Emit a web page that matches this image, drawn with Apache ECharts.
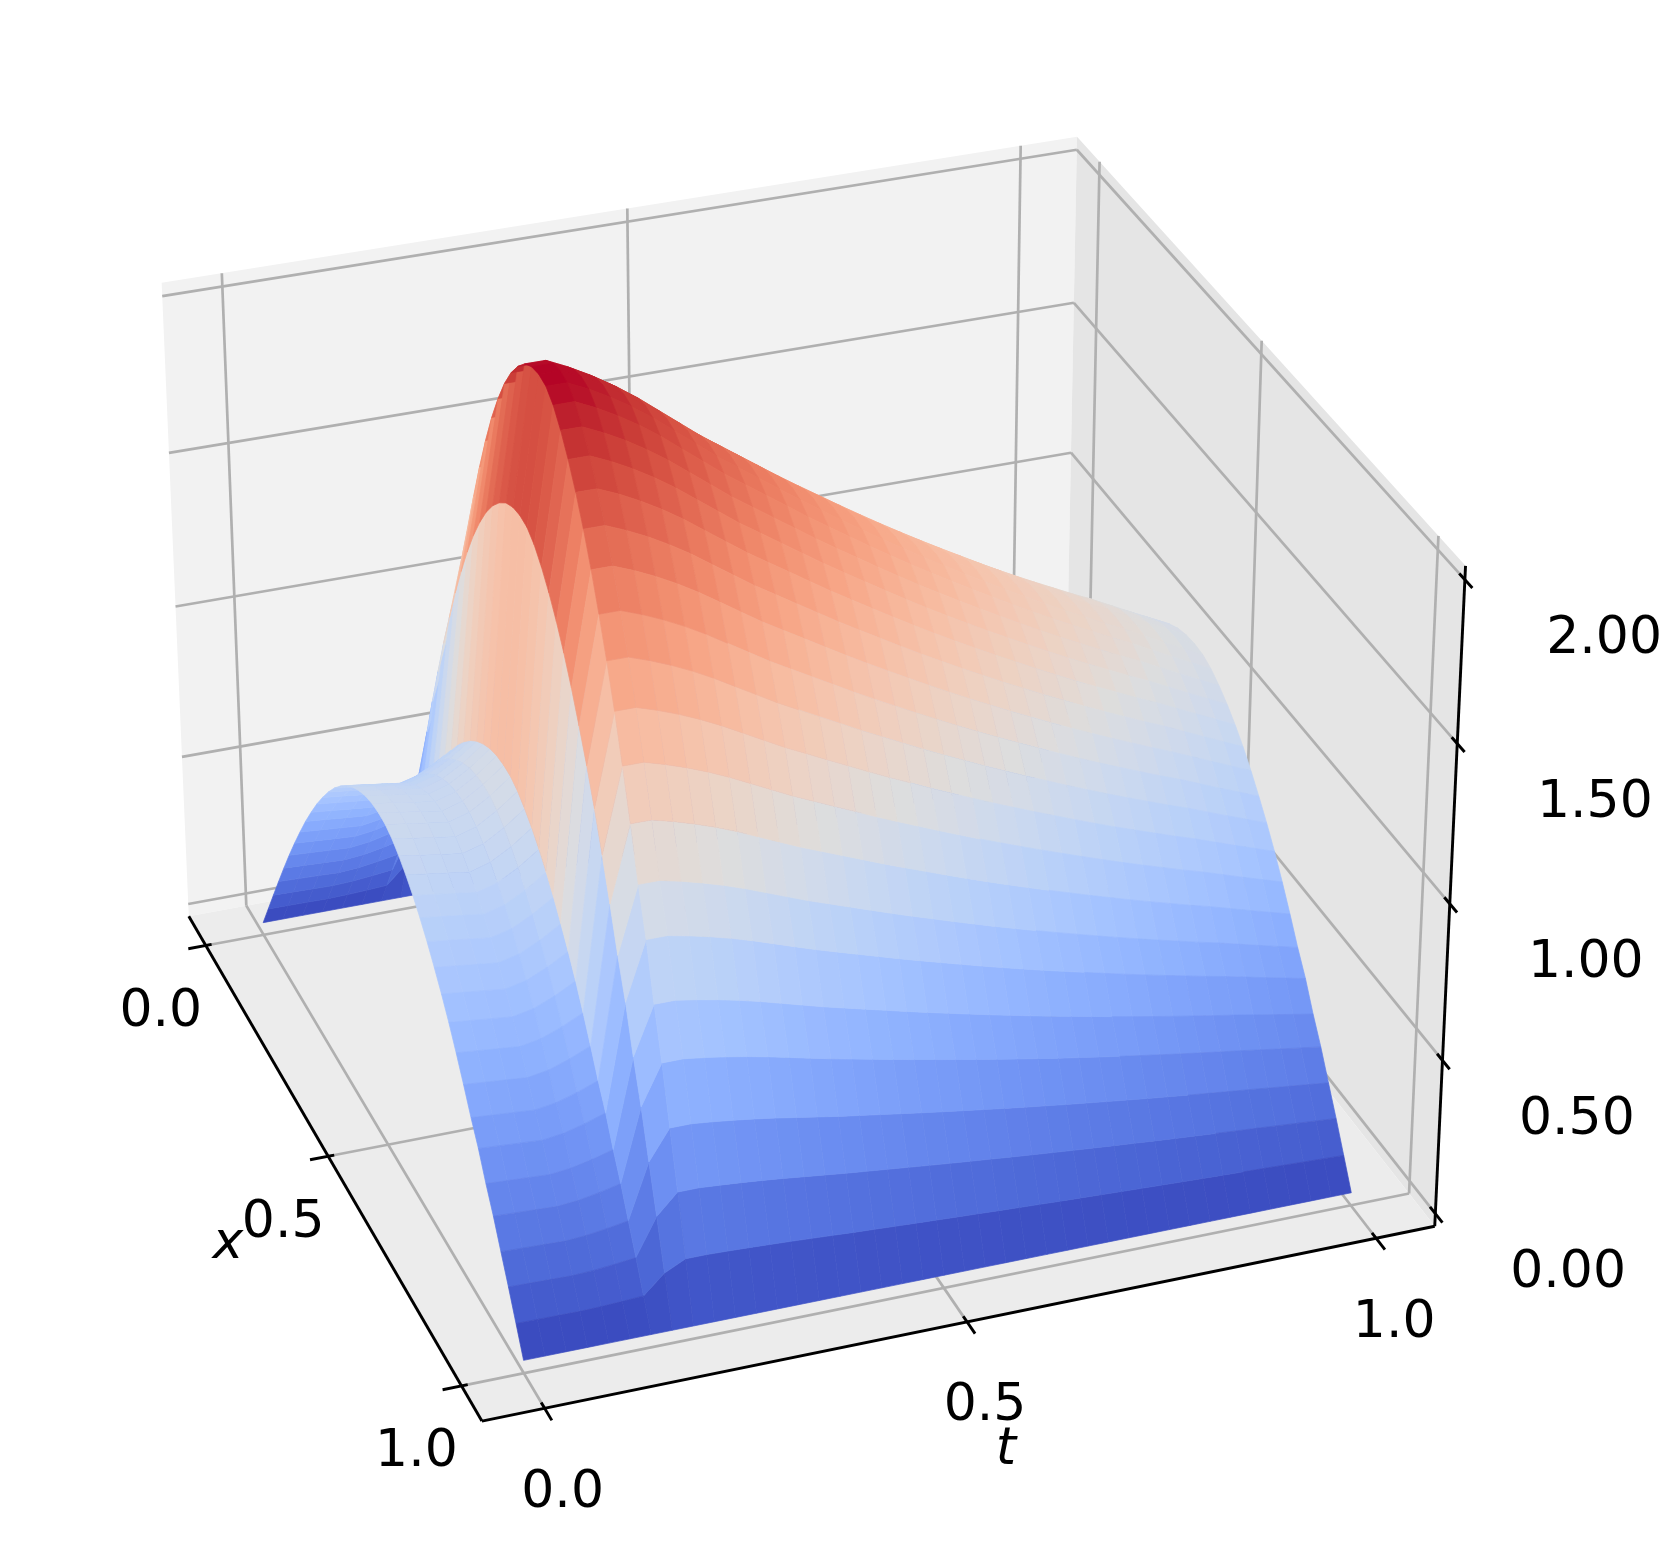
<!DOCTYPE html>
<html><head><meta charset="utf-8">
<style>html,body{margin:0;padding:0;background:#fff}#c{width:1662px;height:1544px}</style>
<script src="https://cdn.jsdelivr.net/npm/echarts@6/dist/echarts.min.js"></script></head>
<body><div id="c"></div>
<script>
const tValues=[0,.025,.05,.075,.1,.125,.15,.175,.2,.225,.25,.275,.3,.325,.35,.375,.4,.425,.45,.475,.5,.525,.55,.575,.6,.625,.65,.675,.7,.725,.75,.775,.8,.825,.85,.875,.9,.925,.95,.975,1];
const amplitude=[1.04,1.03,1.02,1.01,1.03,1.07,1.12,1.89,2.31,2.31,2.28,2.245,2.205,2.16,2.11,2.06,2.01,1.965,1.92,1.875,1.83,1.787,1.745,1.703,1.662,1.622,1.583,1.545,1.508,1.472,1.436,1.401,1.367,1.334,1.302,1.27,1.24,1.207,1.174,1.142,1.11];
const xValues=[0,.025,.05,.075,.1,.125,.15,.175,.2,.225,.25,.275,.3,.325,.35,.375,.4,.425,.45,.475,.5,.525,.55,.575,.6,.625,.65,.675,.7,.725,.75,.775,.8,.825,.85,.875,.9,.925,.95,.975,1];
const profile=[0,.078,.156,.233,.309,.383,.454,.522,.588,.649,.707,.76,.809,.853,.891,.924,.951,.972,.988,.997,1,.997,.985,.965,.94,.91,.875,.835,.79,.742,.689,.63,.567,.5,.44,.367,.302,.228,.155,.078,0];
const xTicks=[0,.5,1],tTicks=[0,.5,1],zTicks=[0,.5,1,1.5,2];
const xLabels=['0.0','0.5','1.0'],tLabels=['0.0','0.5','1.0'],zLabels=['0.00','0.50','1.00','1.50','2.00'];
const coolwarm=['#3b4cc0','#445acc','#4d68d7','#5775e1','#6282ea','#6c8ef1','#779af7','#82a5fb','#8db0fe','#98b9ff','#a3c2ff','#aec9fd','#b8d0f9','#c2d5f4','#ccd9ee','#d5dbe6','#dddddd','#e5d8d1','#ecd3c5','#f1ccb9','#f5c4ad','#f7bba0','#f7b194','#f7a687','#f49a7b','#f18d6f','#ec7f63','#e57058','#de604d','#d55042','#cb3e38','#c0282f','#b40426'];
const m=.0729,zf=-.0417,zt=2.0417,lo=-m,hi=1+m;
const P=[[217.5733,800.0925,-16.43704,263.1711],[326.4153,-118.4786,-311.265,922.6306],[-0.08183324,0.02969,-0.02074674,1]];
function proj(x,t,z){const w=P[2][0]*x+P[2][1]*t+P[2][2]*z+1;return [(P[0][0]*x+P[0][1]*t+P[0][2]*z+P[0][3])/w,(P[1][0]*x+P[1][1]*t+P[1][2]*z+P[1][3])/w,w];}
const zAt=(i,j)=>amplitude[j]*profile[i];
function cmap(v){v=Math.max(0,Math.min(1,v))*(coolwarm.length-1);const i=Math.min(coolwarm.length-2,Math.floor(v)),f=v-i;const h=s=>[1,3,5].map(k=>parseInt(s.substr(k,2),16));const a=h(coolwarm[i]),b=h(coolwarm[i+1]);return 'rgb('+a.map((c,k)=>Math.round(c+(b[k]-c)*f)).join(',')+')';}
const facets=[];
for(let i=0;i<xValues.length-1;i++)for(let j=0;j<tValues.length-1;j++){
 const c=[[i,j],[i+1,j],[i+1,j+1],[i,j+1]];
 let w=0,z=0;c.forEach(([a,b])=>{const zz=zAt(a,b);z+=zz/4;w+=proj(xValues[a],tValues[b],zz)[2]/4;});
 facets.push({i,j,w,z});}
facets.sort((a,b)=>b.w-a.w);
const zMin=Math.min(...facets.map(f=>f.z)),zMax=Math.max(...facets.map(f=>f.z));
const panes=[[[lo,lo,zf],[lo,hi,zf],[lo,hi,zt],[lo,lo,zt],'#f2f2f2'],[[lo,hi,zf],[hi,hi,zf],[hi,hi,zt],[lo,hi,zt],'#e5e5e5'],[[lo,lo,zf],[hi,lo,zf],[hi,hi,zf],[lo,hi,zf],'#ececec']];
const grid=[];
xTicks.forEach(x=>{grid.push([x,lo,zf,x,hi,zf],[x,hi,zf,x,hi,zt]);});
tTicks.forEach(t=>{grid.push([hi,t,zf,lo,t,zf],[lo,t,zf,lo,t,zt]);});
zTicks.forEach(z=>{grid.push([lo,lo,z,lo,hi,z],[lo,hi,z,hi,hi,z]);});
const axes=[[lo,lo,zf,hi,lo,zf],[hi,lo,zf,hi,hi,zf],[hi,hi,zf,hi,hi,zt]];
xTicks.forEach(x=>axes.push([x,lo-.022,zf,x,lo+.0073,zf]));
tTicks.forEach(t=>axes.push([hi+.025,t,zf,hi-.012,t,zf]));
zTicks.forEach(z=>axes.push([hi+.02,hi,z,hi-.015,hi,z]));
const texts=[];
xTicks.forEach((x,k)=>{const q=proj(x,lo,zf);texts.push([q[0]-45,q[1]+67,xLabels[k],0]);});
tTicks.forEach((t,k)=>{const q=proj(hi,t,zf);texts.push([q[0]+18,q[1]+85,tLabels[k],0]);});
zTicks.forEach((z,k)=>{const q=proj(hi,hi,z);texts.push([q[0]+136+(k-2)*1.6,q[1]+60,zLabels[k],0]);});
texts.push([228,1244,'x',1],[1006,1450,'t',1]);
const chart=echarts.init(document.getElementById('c'),null,{renderer:'canvas'});
const base={type:'custom',coordinateSystem:'cartesian2d',silent:true,animation:false,progressive:0,clip:false};
chart.setOption({animation:false,tooltip:{show:false},
 grid:{left:0,right:0,top:0,bottom:0},
 xAxis:{type:'value',min:0,max:1662,show:false},yAxis:{type:'value',min:0,max:1544,inverse:true,show:false},
 series:[
 {...base,z:1,data:panes.map((p,k)=>[k]),encode:{x:0,y:0},renderItem:(ps,api)=>{const p=panes[ps.dataIndex];return {type:'polygon',shape:{points:p.slice(0,4).map(a=>api.coord(proj(a[0],a[1],a[2]).slice(0,2)))},style:{fill:p[4]}};}},
 {...base,z:2,data:grid.map((p,k)=>[k]),encode:{x:0,y:0},renderItem:(ps,api)=>{const s=grid[ps.dataIndex],a=api.coord(proj(s[0],s[1],s[2]).slice(0,2)),b=api.coord(proj(s[3],s[4],s[5]).slice(0,2));return {type:'line',shape:{x1:a[0],y1:a[1],x2:b[0],y2:b[1]},style:{stroke:'#b0b0b0',lineWidth:2.7}};}},
 {...base,z:3,data:axes.map((p,k)=>[k]),encode:{x:0,y:0},renderItem:(ps,api)=>{const s=axes[ps.dataIndex],a=api.coord(proj(s[0],s[1],s[2]).slice(0,2)),b=api.coord(proj(s[3],s[4],s[5]).slice(0,2));return {type:'line',shape:{x1:a[0],y1:a[1],x2:b[0],y2:b[1]},style:{stroke:'#000',lineWidth:2.9}};}},
 {...base,z:4,data:facets.map((f,k)=>[k]),encode:{x:0,y:0},renderItem:(ps,api)=>{const f=facets[ps.dataIndex],c=cmap((f.z-zMin)/(zMax-zMin));
   const pts=[[f.i,f.j],[f.i+1,f.j],[f.i+1,f.j+1],[f.i,f.j+1]].map(([a,b])=>api.coord(proj(xValues[a],tValues[b],zAt(a,b)).slice(0,2)));
   return {type:'polygon',shape:{points:pts},style:{fill:c,stroke:c,lineWidth:.7}};}},
 {...base,z:5,data:texts.map((p,k)=>[k]),encode:{x:0,y:0},renderItem:(ps,api)=>{const s=texts[ps.dataIndex],a=api.coord([s[0],s[1]]);
   return {type:'text',style:{x:a[0],y:a[1],text:s[2],fill:'#000',font:(s[3]==1?'italic 52px':'52px')+' "DejaVu Sans"',textAlign:'center',textVerticalAlign:'middle'}};}}
 ]});
</script></body></html>
